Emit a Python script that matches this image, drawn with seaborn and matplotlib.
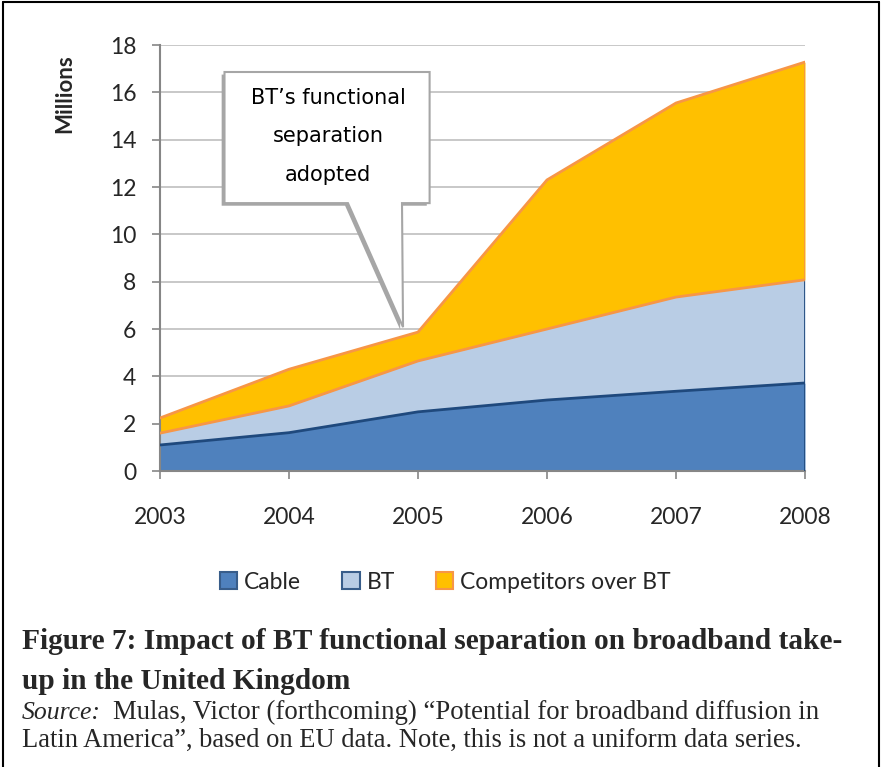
import matplotlib
matplotlib.use("Agg")
import matplotlib.pyplot as plt
from matplotlib.patches import Polygon, Patch
from matplotlib.lines import Line2D
import seaborn as sns
import pandas as pd

years = [2003, 2004, 2005, 2006, 2007, 2008]
cable = [1.1, 1.62, 2.5, 3.0, 3.37, 3.72]
bt = [0.5, 1.13, 2.15, 3.0, 3.98, 4.36]
competitors = [0.64, 1.55, 1.22, 6.3, 8.2, 9.2]
series_names = ["Cable", "BT", "Competitors over BT"]

fill_colors = ["#4F81BD", "#B9CDE5", "#FFC000"]
edge_colors = ["#1F497D", "#F79646", "#F79646"]
legend_edges = ["#385D8A", "#385D8A", "#F79646"]

df = pd.DataFrame({"year": years, "Cable": cable, "BT": bt, "Competitors over BT": competitors})
df["BT_top"] = df["Cable"] + df["BT"]
df["total"] = df["BT_top"] + df["Competitors over BT"]

sns.set_theme(style="white")
plt.rcParams["font.family"] = ["Lato", "DejaVu Sans"]

fig = plt.figure(figsize=(8.82, 7.67), dpi=100)
ax = fig.add_axes([0.1814, 0.3859, 0.7313, 0.5554])

ax.stackplot(df["year"], df["Cable"], df["BT"], df["Competitors over BT"],
             colors=fill_colors, linewidth=0, zorder=2)
sns.lineplot(x=df["year"], y=df["Cable"], color=edge_colors[0], linewidth=2, ax=ax, zorder=3)
sns.lineplot(x=df["year"], y=df["BT_top"], color=edge_colors[1], linewidth=2, ax=ax, zorder=3)
sns.lineplot(x=df["year"], y=df["total"], color=edge_colors[2], linewidth=2, ax=ax, zorder=3)
last = df.iloc[-1]
ax.plot([2008, 2008], [0, last["BT_top"]], color="#1F497D", linewidth=2, zorder=3)
ax.plot([2008, 2008], [last["BT_top"], last["total"]], color="#F79646", linewidth=2, zorder=3)

ax.set_xlim(2003, 2008)
ax.set_ylim(0, 18)
ax.set_yticks(range(0, 19, 2))
ax.set_xticks(years)
ax.yaxis.grid(True, color="#BFBFBF", linewidth=1.2, zorder=0)
ax.set_axisbelow(True)
for side in ["top", "right"]:
    ax.spines[side].set_visible(False)
for side in ["left", "bottom"]:
    ax.spines[side].set_color("#868686")
    ax.spines[side].set_linewidth(1.5)
ax.tick_params(axis="both", which="both", direction="out", length=6, width=1.2,
               color="#868686", labelsize=16.5, left=True, bottom=True)
ax.tick_params(axis="x", pad=20)
ax.tick_params(axis="y", pad=11)
ax.set_xlabel("")
ax.set_ylabel("Millions", fontsize=16, fontweight="bold")
ax.yaxis.set_label_coords(-0.132, 0.885)

# callout
box = [(2003.50, 16.86), (2005.09, 16.86), (2005.09, 11.32), (2004.876, 11.32),
       (2004.884, 6.08), (2004.457, 11.32), (2003.50, 11.32)]
shadow = [(x - 0.022, y - 0.11) for x, y in box]
ax.add_patch(Polygon(shadow, closed=True, facecolor="#A6A6A6", edgecolor="none", zorder=5, clip_on=False))
ax.add_patch(Polygon(box, closed=True, facecolor="white", edgecolor="#A6A6A6", linewidth=1.5, zorder=6, clip_on=False))
for txt, yy in [("BT\u2019s functional", 15.75), ("separation", 14.15), ("adopted", 12.5)]:
    ax.text(2004.305, yy, txt, ha="center", va="center", fontsize=15,
            family=["DejaVu Sans"], color="black", zorder=7)

# legend
handles = [Patch(facecolor=fill_colors[i], edgecolor=legend_edges[i], linewidth=1.5)
           for i in range(3)]
fig.legend(handles, series_names, loc="center", bbox_to_anchor=(0.505, 0.241), ncol=3,
           frameon=False, fontsize=16.5, handlelength=0.75, handleheight=0.75,
           handletextpad=0.3, columnspacing=1.8)

# caption
serif = ["Liberation Serif"]
fig.text(0.025, 0.163, "Figure 7: Impact of BT functional separation on broadband take-",
         family=serif, fontsize=21.2, fontweight="bold", va="center")
fig.text(0.025, 0.112, "up in the United Kingdom",
         family=serif, fontsize=21.2, fontweight="bold", va="center")
fig.text(0.025, 0.071, "Source:", family=serif, fontsize=18.5, style="italic", va="center")
fig.text(0.128, 0.071, "Mulas, Victor (forthcoming) \u201cPotential for broadband diffusion in",
         family=serif, fontsize=19.3, va="center")
fig.text(0.025, 0.035, "Latin America\u201d, based on EU data. Note, this is not a uniform data series.",
         family=serif, fontsize=19.1, va="center")

# outer frame
for xs, ys in [([0.003, 0.003], [0, 0.997]), ([0.003, 0.997], [0.997, 0.997]),
               ([0.997, 0.997], [0.997, 0])]:
    fig.add_artist(Line2D(xs, ys, color="black", linewidth=1.5, transform=fig.transFigure))

fig.savefig("out.png", dpi=100)
